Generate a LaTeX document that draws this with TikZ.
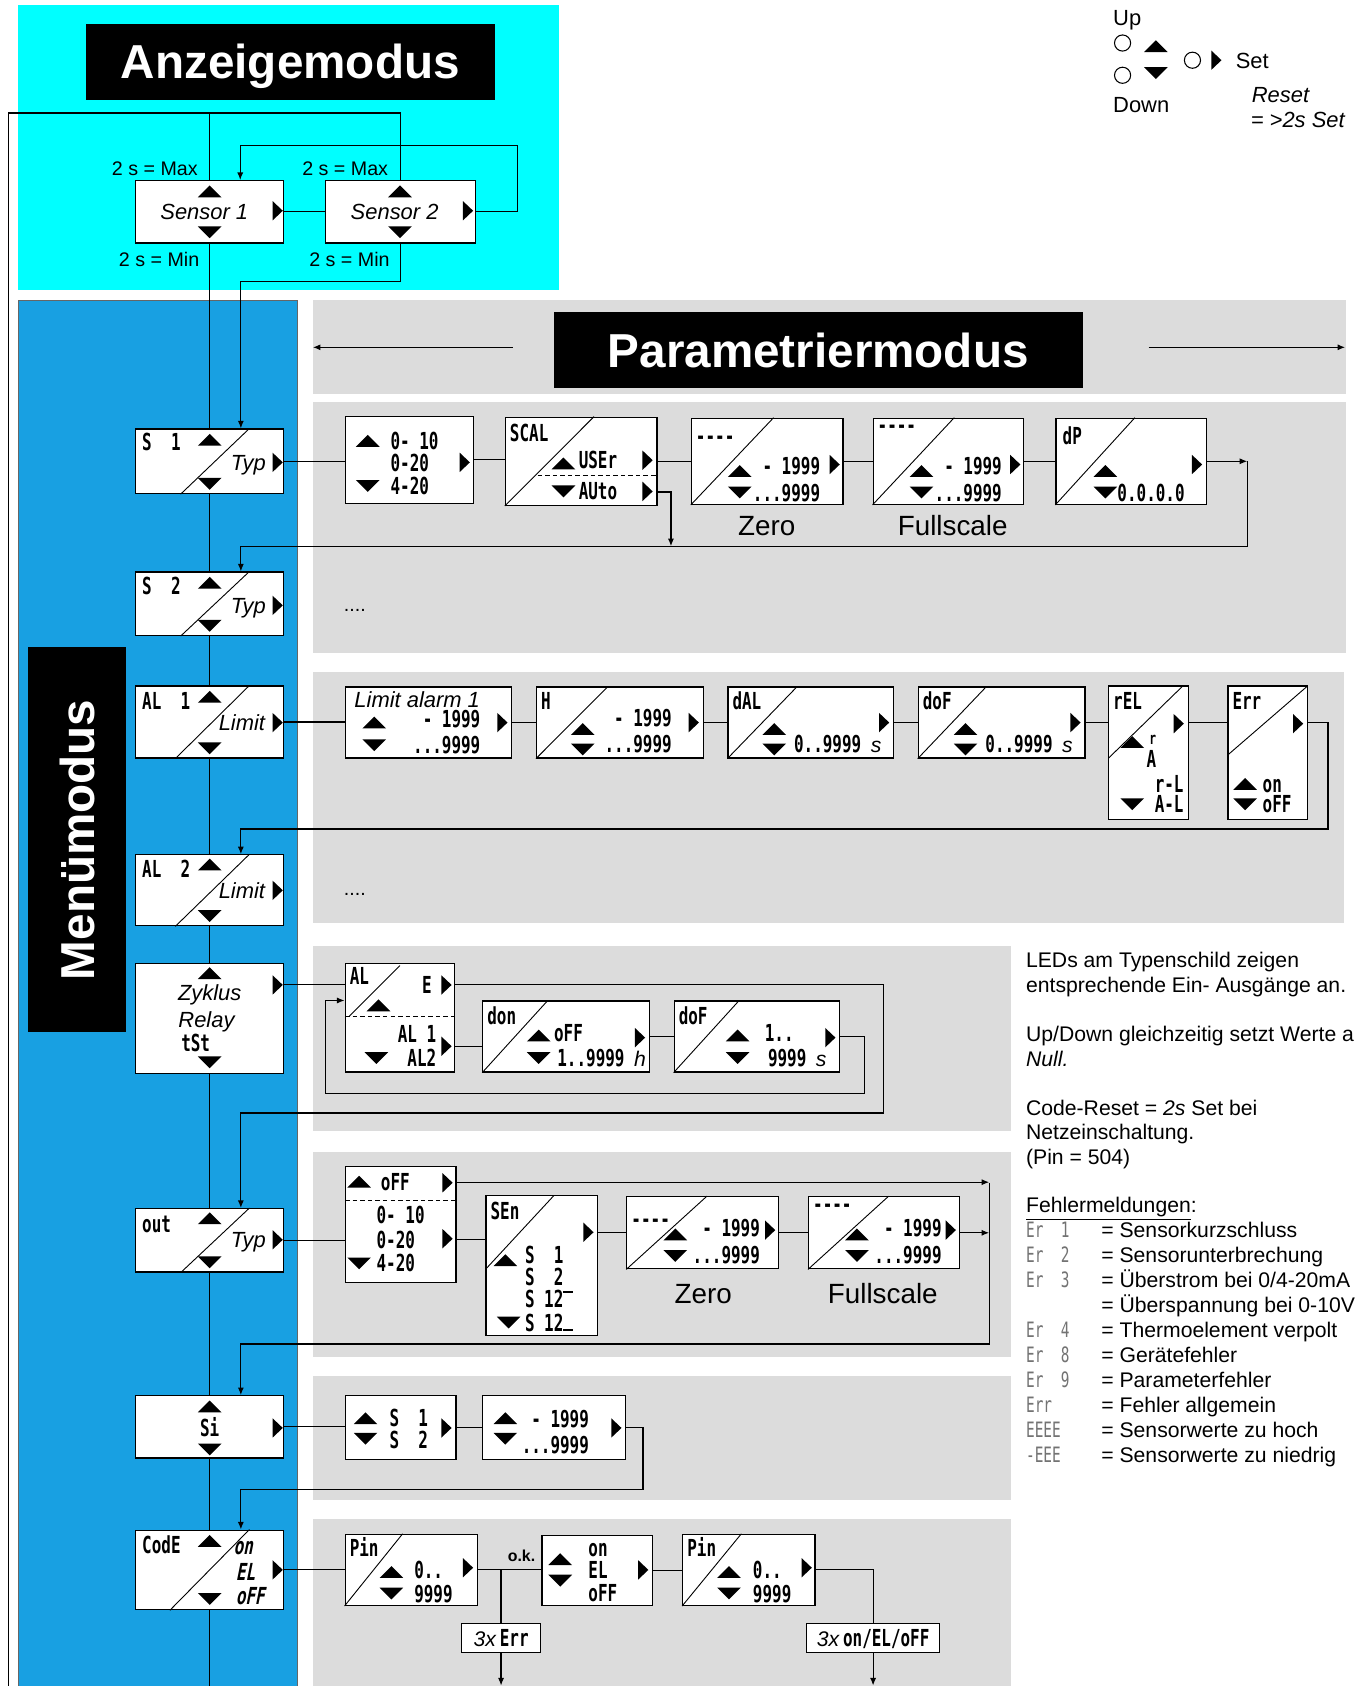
\documentclass[tikz,border=0pt]{standalone}
\usepackage{fontspec}
\setmainfont{Liberation Sans}
\newfontfamily\segfont[FakeStretch=0.68]{DejaVu Sans Mono}
\newfontfamily\segitfont[FakeStretch=0.68,FakeSlant=0.2]{DejaVu Sans Mono}
\usetikzlibrary{calc,positioning,fit,arrows.meta}
\definecolor{cyanbg}{RGB}{0,255,255}
\definecolor{menublue}{RGB}{24,160,226}
\definecolor{panelgray}{RGB}{220,220,220}
\pgfdeclarelayer{bg}
\pgfdeclarelayer{wires}
\pgfsetlayers{bg,wires,main}

\tikzset{
  dbox/.style={draw, fill=white, line width=0.8pt, inner sep=0pt},
  titlebox/.style={fill=black, inner sep=0pt},
  wire/.style={line width=0.8pt},
  dline/.style={line width=0.6pt},
  titl/.style={font=\bfseries\fontsize{31.5}{34}\selectfont, text=white, inner sep=0pt, text height=22.7pt, text depth=0pt},
  lab/.style={font=\fontsize{13}{15}\selectfont, inner sep=0pt, text height=9.3pt, text depth=0pt},
  note/.style={font=\fontsize{14}{16}\selectfont, inner sep=0pt, text height=10pt, text depth=0pt},
  itl/.style={font=\fontsize{14.5}{16}\selectfont\itshape, inner sep=0pt, text height=10.4pt, text depth=0pt},
  leg/.style={font=\fontsize{14.5}{16}\selectfont, inner sep=0pt, text height=10.4pt, text depth=0pt},
  big/.style={font=\fontsize{18.4}{20}\selectfont, inner sep=0pt, text height=13.2pt, text depth=0pt},
  okl/.style={font=\bfseries\fontsize{10.5}{12}\selectfont, inner sep=0pt},
  seg/.style={font=\segfont\bfseries\fontsize{15.5}{16}\selectfont, inner sep=0pt, text height=11.3pt, text depth=0pt},
  segi/.style={font=\segitfont\bfseries\fontsize{15.5}{16}\selectfont, inner sep=0pt, text height=11.3pt, text depth=0pt},
  errc/.style={font=\segfont\fontsize{14}{15}\selectfont, text=black!55, inner sep=0pt, text height=10.2pt, text depth=0pt},
  pics/tup/.style={code={\fill (-11,5.5) -- (11,5.5) -- (0,-5.5) -- cycle;}},
  pics/tdn/.style={code={\fill (-11,-5.5) -- (11,-5.5) -- (0,5.5) -- cycle;}},
  pics/trt/.style={code={\fill (-4.5,-9) -- (5,0) -- (-4.5,9) -- cycle;}}
}
\newcommand{\dbox}[5]{\node[dbox, fit={(#2,#3) (#4,#5)}] (#1) {};}
\newcommand{\diag}[2]{\draw[dline] (#1.south west) -- ($(#1.north west)+(#2,0)$);}
\newcommand{\mdiag}[2]{\draw[dline] ($(#1.south)+(#2,0)$) -- ($(#1.north)+(37,0)$);}
\newcommand{\its}[1]{{\normalfont\fontsize{14}{14}\selectfont\itshape #1}}
\newcommand{\topbar}{\raisebox{0.62em}{\rule{0.4em}{0.09em}}}
\newcommand{\lowbar}{\rule{0.4em}{0.09em}}

\begin{document}
\begin{tikzpicture}[x=0.025cm, y=-0.025cm, >={Latex[length=5pt,width=4pt]}]
\useasboundingbox (0,0) rectangle (1261,1568);

% Hintergruende
\begin{pgfonlayer}{bg}
  \fill[white] (0,0) rectangle (1261,1568);
  \fill[cyanbg] (17,5) rectangle (520,270);
  \filldraw[fill=menublue, draw=black!60, line width=0.5pt] (17,279) rectangle (277,1580);
  \fill[panelgray] (291,279) rectangle (1252,366);
  \fill[panelgray] (291,374) rectangle (1252,607);
  \fill[panelgray] (291,625) rectangle (1250,858);
  \fill[panelgray] (291,880) rectangle (940,1052);
  \fill[panelgray] (291,1071) rectangle (940,1262);
  \fill[panelgray] (291,1280) rectangle (940,1395);
  \fill[panelgray] (291,1413) rectangle (940,1580);
\end{pgfonlayer}

% Titel
\node[titlebox, fit={(80,22) (460,93)}] (anz) {};
\node[titl] (anzt) at (anz) {Anzeigemodus};
\node[titlebox, fit={(515,290) (1007,361)}] (par) {};
\node[titl] (part) at (par) {Parametriermodus};
\node[titlebox, fit={(26,602) (117,960)}] (men) {};
\node[titl, rotate=90] (ment) at (men) {Menümodus};

% Tasten
\node[leg, anchor=west] (up) at (1035,16) {Up};
\draw[line width=0.7pt] (1044,40) circle [radius=7.5];
\draw[line width=0.7pt] (1044,70) circle [radius=7.5];
\draw[line width=0.7pt] (1109,56) circle [radius=7.5];
\pic at (1075,43) {tup};
\pic at (1075,68) {tdn};
\pic at (1131,56) {trt};
\node[leg, anchor=west] (set) at (1149,56) {Set};
\node[leg, anchor=west] (down) at (1035,97) {Down};
\node[itl, anchor=west] (reset) at (1164,88) {Reset};
\node[itl, anchor=west] (reset2) at (1163,111) {= >2s Set};

% Anzeigemodus
\dbox{sen1}{126}{168}{264}{226}
\dbox{sen2}{303}{168}{442}{226}
\node[itl] (sen1t) at (190,197) {Sensor 1};
\node[itl] (sen2t) at (367,197) {Sensor 2};
\foreach \dx in {0,177}{
  \pic at (195+\dx,178) {tup};
  \pic at (195+\dx,216) {tdn};
  \pic at (258+\dx,196) {trt};
}
\node[lab] (max1) at (144,157) {2 s = Max};
\node[lab] (max2) at (321,157) {2 s = Max};
\node[lab] (min1) at (148,241) {2 s = Min};
\node[lab] (min2) at (325,241) {2 s = Min};

% Menue
\dbox{m1}{126}{399}{264}{459}
\dbox{m2}{126}{532}{264}{591}
\dbox{m3}{126}{638}{264}{705}
\dbox{m4}{126}{795}{264}{861}
\dbox{m5}{126}{896}{264}{998}
\dbox{m6}{126}{1124}{264}{1183}
\dbox{m7}{126}{1298}{264}{1356}
\dbox{m8}{126}{1423}{264}{1497}
\mdiag{m1}{-27} \mdiag{m2}{-27} \mdiag{m3}{-32} \mdiag{m4}{-32}
\mdiag{m6}{-27} \mdiag{m8}{-37}
\node[seg, anchor=west] (m1a) at (132,411) {S\ \ 1};
\node[itl] (m1b) at (231,430) {Typ};
\pic at (195,409) {tup}; \pic at (195,450) {tdn}; \pic at (258,430) {trt};
\node[seg, anchor=west] (m2a) at (132,545) {S\ \ 2};
\node[itl] (m2b) at (231,563) {Typ};
\pic at (195,542) {tup}; \pic at (195,582) {tdn}; \pic at (258,563) {trt};
\node[seg, anchor=west] (m3a) at (132,652) {AL\ \ 1};
\node[itl] (m3b) at (225,672) {Limit};
\pic at (195,648) {tup}; \pic at (195,696) {tdn}; \pic at (258,672) {trt};
\node[seg, anchor=west] (m4a) at (132,808) {AL\ \ 2};
\node[itl] (m4b) at (225,828) {Limit};
\pic at (195,804) {tup}; \pic at (195,852) {tdn}; \pic at (258,828) {trt};
\node[itl] (m5a) at (195,923) {Zyklus};
\node[itl] (m5b) at (192,948) {Relay};
\node[seg] (m5c) at (182,970) {tSt};
\pic at (195,905) {tup}; \pic at (195,988) {tdn}; \pic at (258,916) {trt};
\node[seg, anchor=west] (m6a) at (132,1138) {out};
\node[itl] (m6b) at (231,1153) {Typ};
\pic at (195,1133) {tup}; \pic at (195,1174) {tdn}; \pic at (258,1153) {trt};
\node[seg] (m7a) at (195,1328) {Si};
\pic at (195,1308) {tup}; \pic at (195,1348) {tdn}; \pic at (258,1328) {trt};
\node[seg, anchor=west] (m8a) at (132,1437) {CodE};
\node[segi, anchor=west] (m8b) at (217,1438) {on};
\node[segi, anchor=west] (m8c) at (219,1462) {EL};
\node[segi, anchor=west] (m8d) at (219,1484) {oFF};
\pic at (195,1433) {tup}; \pic at (195,1487) {tdn}; \pic at (258,1460) {trt};

% Sensor 1 Typ
\dbox{a}{321}{387}{440}{468}
\node[seg, anchor=west] (a1) at (363,410) {0- 10};
\node[seg, anchor=west] (a2) at (363,431) {0-20};
\node[seg, anchor=west] (a3) at (363,452) {4-20};
\pic at (342,410) {tup}; \pic at (342,452) {tdn}; \pic at (432,430) {trt};
\dbox{b}{470}{388}{611}{470}
\diag{b}{83}
\draw[dline, dash pattern=on 3pt off 2pt] (500,442) -- (611,442);
\node[seg, anchor=west] (b1) at (474,403) {SCAL};
\node[seg, anchor=west] (b2) at (538,428) {USEr};
\node[seg, anchor=west] (b3) at (538,457) {AUto};
\pic at (524,431) {tup}; \pic at (524,457) {tdn};
\pic at (602,428) {trt}; \pic at (602,457) {trt};
\dbox{c}{643}{389}{784}{469}
\diag{c}{77}
\node[seg, anchor=west] (c1) at (647,405) {----};
\node[seg, anchor=east] (c2) at (763,433) {- 1999};
\node[seg, anchor=east] (c3) at (763,458) {...9999};
\pic at (688,438) {tup}; \pic at (688,458) {tdn}; \pic at (776,432) {trt};
\node[big] (zero1) at (713,489) {Zero};
\dbox{d}{812}{389}{952}{469}
\diag{d}{76}
\node[seg, anchor=west] (d1) at (816,395) {----};
\node[seg, anchor=east] (d2) at (932,433) {- 1999};
\node[seg, anchor=east] (d3) at (932,458) {...9999};
\pic at (857,438) {tup}; \pic at (857,458) {tdn}; \pic at (944,432) {trt};
\node[big] (full1) at (886,489) {Fullscale};
\dbox{e}{982}{389}{1122}{469}
\diag{e}{74}
\node[seg, anchor=west] (e1a) at (988,405) {dP};
\node[seg, anchor=east] (e1b) at (1102,458) {0.0.0.0};
\pic at (1028,438) {tup}; \pic at (1028,458) {tdn}; \pic at (1113,432) {trt};
\node[lab] (s2dots) at (330,562) {....};

% Limit alarm 1
\dbox{f}{321}{639}{476}{705}
\node[itl] (f1) at (388,651) {Limit alarm 1};
\node[seg, anchor=east] (f2) at (447,669) {- 1999};
\node[seg, anchor=east] (f3) at (447,693) {...9999};
\pic at (348,672) {tup}; \pic at (348,693) {tdn}; \pic at (467,672) {trt};
\dbox{g}{499}{639}{654}{705}
\diag{g}{67}
\node[seg, anchor=west] (g1) at (503,652) {H};
\node[seg, anchor=east] (g2) at (625,668) {- 1999};
\node[seg, anchor=east] (g3) at (625,692) {...9999};
\pic at (542,678) {tup}; \pic at (542,697) {tdn}; \pic at (645,672) {trt};
\dbox{h}{677}{639}{831}{705}
\diag{h}{65}
\node[seg, anchor=west] (h1) at (681,652) {dAL};
\node[seg, anchor=east] (h2) at (820,692) {0..9999 \its{s}};
\pic at (720,678) {tup}; \pic at (720,697) {tdn}; \pic at (822,672) {trt};
\dbox{i}{854}{639}{1009}{705}
\diag{i}{64}
\node[seg, anchor=west] (i1) at (858,652) {doF};
\node[seg, anchor=east] (i2) at (998,692) {0..9999 \its{s}};
\pic at (898,678) {tup}; \pic at (898,697) {tdn}; \pic at (1000,672) {trt};
\dbox{j}{1031}{638}{1105}{762}
\draw[dline] (1031,705) -- (1100,638);
\node[seg, anchor=west] (j1) at (1035,652) {rEL};
\node[seg, font=\segfont\bfseries\fontsize{11}{12}\selectfont] (j2) at (1072,684) {r};
\node[seg, anchor=west] (j3) at (1066,706) {A};
\node[seg, anchor=east] (j4) at (1101,729) {r-L};
\node[seg, anchor=east] (j5) at (1101,748) {A-L};
\pic at (1053,690) {tup}; \pic at (1053,748) {tdn}; \pic at (1096,673) {trt};
\dbox{k}{1142}{638}{1216}{762}
\draw[dline] (1142,702) -- (1216,638);
\node[seg, anchor=west] (k1) at (1146,652) {Err};
\node[seg, anchor=west] (k2) at (1174,729) {on};
\node[seg, anchor=west] (k3) at (1174,748) {oFF};
\pic at (1158,729) {tup}; \pic at (1158,748) {tdn}; \pic at (1207,673) {trt};
\node[lab] (a2dots) at (330,826) {....};

% Zyklus Relay
\dbox{l}{321}{896}{423}{997}
\draw[dline] (325,945) -- (372,898);
\draw[dline, dash pattern=on 3pt off 2pt] (321,945) -- (423,945);
\node[seg, anchor=west] (l1) at (325,908) {AL};
\node[seg] (l2) at (397,916) {E};
\node[seg, anchor=east] (l3) at (406,962) {AL 1};
\node[seg, anchor=east] (l4) at (406,984) {AL2};
\pic at (352,935) {tup}; \pic at (350,984) {tdn};
\pic at (415,916) {trt}; \pic at (415,973) {trt};
\dbox{m}{449}{931}{604}{997}
\diag{m}{61}
\node[seg, anchor=west] (m1t) at (453,945) {don};
\node[seg, anchor=west] (m2t) at (515,961) {oFF};
\node[seg, anchor=east] (m3t) at (601,984) {1..9999 \its{h}};
\pic at (501,963) {tup}; \pic at (501,984) {tdn}; \pic at (595,965) {trt};
\dbox{n}{627}{931}{781}{997}
\diag{n}{61}
\node[seg, anchor=west] (n1) at (631,945) {doF};
\node[seg, anchor=west] (n2) at (711,961) {1..};
\node[seg, anchor=east] (n3) at (769,984) {9999 \its{s}};
\pic at (686,963) {tup}; \pic at (686,984) {tdn}; \pic at (772,965) {trt};

% Ausgang
\dbox{o}{321}{1085}{424}{1193}
\draw[dline, dash pattern=on 3pt off 2pt] (321,1116) -- (424,1116);
\node[seg, anchor=west] (o1t) at (354,1099) {oFF};
\node[seg, anchor=west] (o2t) at (350,1130) {0- 10};
\node[seg, anchor=west] (o3t) at (350,1153) {0-20};
\node[seg, anchor=west] (o4t) at (350,1175) {4-20};
\pic at (334,1099) {tup}; \pic at (334,1175) {tdn};
\pic at (416,1100) {trt}; \pic at (416,1152) {trt};
\dbox{p}{452}{1112}{556}{1242}
\draw[dline] (452,1180) -- (515,1112);
\node[seg, anchor=west] (p1) at (456,1126) {SEn};
\node[seg, anchor=west] (p2) at (488,1167) {S\ \ 1};
\node[seg, anchor=west] (p3) at (488,1188) {S\ \ 2};
\node[seg, anchor=west] (p4) at (488,1208) {S 12\topbar};
\node[seg, anchor=west] (p5) at (488,1230) {S 12\lowbar};
\pic at (470,1172) {tup}; \pic at (473,1230) {tdn}; \pic at (547,1146) {trt};
\dbox{q}{583}{1113}{724}{1180}
\diag{q}{75}
\node[seg, anchor=west] (q1) at (587,1134) {----};
\node[seg, anchor=east] (q2) at (707,1142) {- 1999};
\node[seg, anchor=east] (q3) at (707,1167) {...9999};
\pic at (628,1148) {tup}; \pic at (628,1168) {tdn}; \pic at (716,1144) {trt};
\node[big] (zero2) at (654,1203) {Zero};
\dbox{r}{752}{1113}{892}{1180}
\diag{r}{75}
\node[seg, anchor=west] (r1t) at (756,1120) {----};
\node[seg, anchor=east] (r2t) at (876,1142) {- 1999};
\node[seg, anchor=east] (r3t) at (876,1167) {...9999};
\pic at (797,1148) {tup}; \pic at (797,1168) {tdn}; \pic at (884,1144) {trt};
\node[big] (full2) at (821,1203) {Fullscale};

% Si
\dbox{s}{321}{1298}{424}{1357}
\node[seg, anchor=west] (s1t) at (362,1319) {S\ \ 1};
\node[seg, anchor=west] (s2t) at (362,1339) {S\ \ 2};
\pic at (340,1319) {tup}; \pic at (340,1338) {tdn}; \pic at (415,1328) {trt};
\dbox{t}{449}{1298}{582}{1357}
\node[seg, anchor=east] (t1t) at (548,1320) {- 1999};
\node[seg, anchor=east] (t2t) at (548,1344) {...9999};
\pic at (470,1319) {tup}; \pic at (470,1338) {tdn}; \pic at (573,1328) {trt};

% Code
\dbox{u}{321}{1427}{444}{1493}
\diag{u}{54}
\node[seg, anchor=west] (u1) at (325,1440) {Pin};
\node[seg, anchor=west] (u2) at (385,1460) {0..};
\node[seg, anchor=west] (u3) at (385,1482) {9999};
\pic at (364,1462) {tup}; \pic at (364,1482) {tdn}; \pic at (435,1458) {trt};
\dbox{v}{504}{1428}{607}{1493}
\node[seg, anchor=west] (v1) at (547,1440) {on};
\node[seg, anchor=west] (v2) at (547,1460) {EL};
\node[seg, anchor=west] (v3) at (547,1481) {oFF};
\pic at (521,1450) {tup}; \pic at (521,1470) {tdn}; \pic at (598,1460) {trt};
\dbox{w}{635}{1427}{758}{1493}
\diag{w}{55}
\node[seg, anchor=west] (w1) at (639,1440) {Pin};
\node[seg, anchor=west] (w2) at (700,1460) {0..};
\node[seg, anchor=west] (w3) at (700,1482) {9999};
\pic at (678,1462) {tup}; \pic at (678,1482) {tdn}; \pic at (750,1458) {trt};
\node[okl] (ok) at (485,1447) {o.k.};
\dbox{e1}{429}{1510}{503}{1537}
\node[seg] (e1t) at (e1) {\its{3x}\,Err};
\dbox{e2}{750}{1510}{874}{1537}
\node[seg] (e2t) at (e2) {\its{3x}\,on/EL/oFF};

% Hinweise
\node[note, anchor=west] (h1t) at (954,893) {LEDs am Typenschild zeigen};
\node[note, anchor=west] (h2t) at (954,916) {entsprechende Ein- Ausgänge an.};
\node[note, anchor=west] (h3t) at (954,962) {Up/Down gleichzeitig setzt Werte a};
\node[note, anchor=west] (h4t) at (954,985) {\itshape Null.};
\node[note, anchor=west] (h5t) at (954,1030) {Code-Reset = \textit{2s} Set bei};
\node[note, anchor=west] (h6t) at (954,1053) {Netzeinschaltung.};
\node[note, anchor=west] (h7t) at (954,1076) {(Pin = 504)};
\node[note, anchor=west] (h8t) at (954,1121) {\underline{Fehlermeldungen}:};
\foreach \c/\t [count=\k] in {{Er\ \ 1}/{Sensorkurzschluss}, {Er\ \ 2}/{Sensorunterbrechung},
    {Er\ \ 3}/{Überstrom bei 0/4-20mA}, {}/{Überspannung bei 0-10V},
    {Er\ \ 4}/{Thermoelement verpolt}, {Er\ \ 8}/{Gerätefehler},
    {Er\ \ 9}/{Parameterfehler}, {Err}/{Fehler allgemein},
    {EEEE}/{Sensorwerte zu hoch}, {-EEE}/{Sensorwerte zu niedrig}}{
  \node[errc, anchor=west] (ec\k) at (954,{1144+23.2*(\k-1)}) {\c};
  \node[note, anchor=west] (et\k) at (1024,{1144+23.2*(\k-1)}) {= \t};
}

% Verbindungen
\begin{pgfonlayer}{wires}
  \coordinate (tl) at (8,105);
  \coordinate (tr) at (372.5,105);
  \coordinate (bl) at (8,1575);
  \coordinate (bm) at (195,1575);
  \draw[wire] (bl) -- (tl) -- (tr) -- (sen2.north);
  \draw[wire] (sen1.north |- tl) -- (sen1.north);
  \draw[wire] (sen1.east) -- (sen2.west);
  \coordinate (lp) at (481,135);
  \draw[wire,->] (sen2.east) -| (lp) -| ($(sen1.north west)+(98,0)$);
  \coordinate (dn1) at (224,262);
  \draw[wire,->] (sen2.south) |- (dn1) -- (dn1 |- m1.north);
  \draw[wire] (sen1.south) -- (m1.north);
  \draw[wire] (m1.south) -- (m2.north);
  \draw[wire] (m2.south) -- (m3.north);
  \draw[wire] (m3.south) -- (m4.north);
  \draw[wire] (m4.south) -- (m5.north);
  \draw[wire] (m5.south) -- (m6.north);
  \draw[wire] (m6.south) -- (m7.north);
  \draw[wire] (m7.south) -- (m8.north);
  \draw[wire] (m8.south) -- (bm);
  % Parametriermodus
  \coordinate (pl) at (291,323);
  \coordinate (pr) at (1251,323);
  \draw[wire,->] ($(par.west |- pl)+(-38,0)$) -- (pl);
  \draw[wire,->] ($(par.east |- pr)+(61,0)$) -- (pr);
  % Sensor 1
  \draw[wire] (m1.east) -- (m1.east -| a.west);
  \draw[wire] (a.east) -- (a.east -| b.west);
  \draw[wire] (b.east) -- (b.east -| c.west);
  \draw[wire] (c.east) -- (c.east -| d.west);
  \draw[wire] (d.east) -- (d.east -| e.west);
  \coordinate (r1a) at (1160,429);
  \coordinate (r1b) at (224,508);
  \coordinate (r1c) at (624,508);
  \draw[wire,->] (e.east) -- (e.east -| r1a);
  \draw[wire,->] (e.east -| r1a) |- (r1b) -- (r1b |- m2.north);
  \draw[wire,->] ($(b.south east)+(0,-13)$) -| (r1c);
  % Limit
  \draw[wire] (m3.east) -- (m3.east -| f.west);
  \draw[wire] (f.east) -- (f.east -| g.west);
  \draw[wire] (g.east) -- (g.east -| h.west);
  \draw[wire] (h.east) -- (h.east -| i.west);
  \draw[wire] (i.east) -- (i.east -| j.west);
  \draw[wire] (i.east -| j.east) -- (i.east -| k.west);
  \coordinate (r2a) at (1235,771);
  \coordinate (r2b) at (224,771);
  \draw[wire,->] (i.east -| k.east) -| (r2a) -- (r2b) -- (r2b |- m4.north);
  % Zyklus
  \coordinate (z1) at ($(l.north west)+(0,20)$);
  \draw[wire] (m5.east |- z1) -- (z1);
  \coordinate (r3a) at (822,1035);
  \coordinate (r3b) at (224,1035);
  \draw[wire,->] ($(l.north east)+(0,20)$) -| (r3a) -- (r3b) -- (r3b |- m6.north);
  \coordinate (z2) at ($(l.south east)+(0,-24)$);
  \draw[wire] (z2) -- (z2 -| m.west);
  \draw[wire] (m.east) -- (m.east -| n.west);
  \coordinate (r3c) at (804,1017);
  \coordinate (r3d) at (303,1017);
  \coordinate (z3) at ($(l.north west)+(0,35)$);
  \draw[wire,->] (n.east) -| (r3c) -- (r3d) |- (z3);
  % Ausgang
  \draw[wire] (m6.east) -- (m6.east -| o.west);
  \coordinate (o1) at ($(o.north east)+(0,15)$);
  \coordinate (r4a) at (920,1100);
  \draw[wire,->] (o1) -- (o1 -| r4a);
  \coordinate (o2) at ($(o.south east)+(0,-41)$);
  \draw[wire] (o2) -- (o2 -| p.west);
  \draw[wire] (q.west -| p.east) -- (q.west);
  \draw[wire] (q.east) -- (q.east -| r.west);
  \draw[wire,->] (r.east) -- (r.east -| r4a);
  \coordinate (r4b) at (920,1250);
  \coordinate (r4c) at (224,1250);
  \draw[wire,->] (r4a) -- (r4b) -- (r4c) -- (r4c |- m7.north);
  % Si
  \draw[wire] (m7.east) -- (m7.east -| s.west);
  \draw[wire] (s.east) -- (s.east -| t.west);
  \coordinate (r5a) at (598,1385);
  \coordinate (r5b) at (224,1385);
  \draw[wire,->] (t.east) -| (r5a) -- (r5b) -- (r5b |- m8.north);
  % Code
  \draw[wire] (m8.east) -- (m8.east -| u.west);
  \draw[wire] (u.east) -- (u.east -| v.west);
  \draw[wire] (u.east -| e1.north) -- (e1.north);
  \draw[wire,->] (e1.south) -- ++(0,30);
  \draw[wire] (v.east) -- (v.east -| w.west);
  \draw[wire] (w.east) -| (e2.north);
  \draw[wire,->] (e2.south) -- ++(0,30);
\end{pgfonlayer}
\end{tikzpicture}
\end{document}
